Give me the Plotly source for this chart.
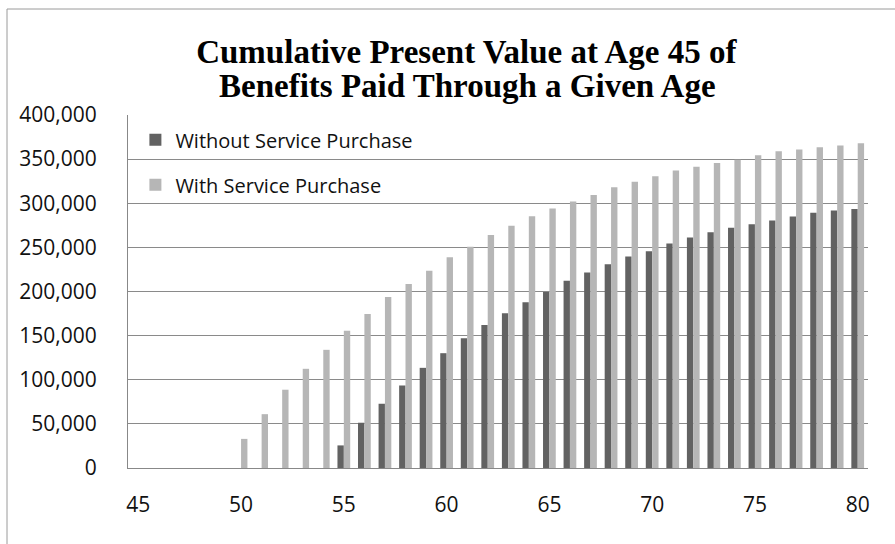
import plotly.graph_objects as go

ages = list(range(45, 81))
without_purchase = [0, 0, 0, 0, 0, 0, 0, 0, 0, 0,
                    25600, 51300, 72800, 93500, 113500, 130100, 147100, 162100, 175300, 187800,
                    199500, 212300, 221500, 231000, 239600, 245700, 254300, 261100, 267200, 272100,
                    276200, 280400, 284900, 289100, 291700, 293600]
with_purchase = [0, 0, 0, 0, 0, 33000, 61000, 88700, 112400, 133900,
                 155400, 174600, 193800, 208500, 223600, 238700, 250800, 264000, 274500, 285400,
                 294100, 302000, 309400, 318100, 324500, 330600, 337000, 341500, 345700, 349400,
                 354300, 358900, 360800, 363400, 365300, 367900]
x_ticks = [45, 50, 55, 60, 65, 70, 75, 80]
y_ticks = [0, 50000, 100000, 150000, 200000, 250000, 300000, 350000, 400000]
title_line1 = "Cumulative Present Value at Age 45 of"
title_line2 = "Benefits Paid Through a Given Age"

fig = go.Figure()
fig.add_trace(go.Bar(x=ages, y=without_purchase, name="Without Service Purchase",
                     marker=dict(color="#626262", line=dict(width=0)), legendgroup="a"))
fig.add_trace(go.Bar(x=ages, y=with_purchase, name="With Service Purchase",
                     marker=dict(color="#b6b6b6", line=dict(width=0)), legendgroup="b"))

title_font = dict(family="Liberation Serif", size=33, color="#000")
fig.update_layout(
    width=895, height=544,
    margin=dict(l=128, r=27, t=115, b=76),
    paper_bgcolor="white", plot_bgcolor="white",
    barmode="group", bargap=0.38, bargroupgap=0,
    font=dict(family="Open Sans", size=21, color="#111"),
    title=dict(text="<b>" + title_line1 + "</b>",
               x=0.521, xanchor="center", y=1 - 51 / 544, yanchor="middle", yref="container",
               font=title_font),
    legend=dict(x=0.01, y=0.985, xanchor="left", yanchor="top", bgcolor="rgba(0,0,0,0)",
                font=dict(family="Open Sans", size=20, color="#111"),
                traceorder="grouped", tracegroupgap=16, itemwidth=30),
    showlegend=True,
)
fig.add_annotation(text="<b>" + title_line2 + "</b>", xref="paper", yref="paper",
                   x=(467 - 128) / 740, y=(468 - 86) / 353, xanchor="center", yanchor="middle",
                   showarrow=False, font=title_font)
fig.update_xaxes(range=[44.5, 80.5], tickmode="array", tickvals=x_ticks,
                 ticktext=[str(v) for v in x_ticks], showgrid=False,
                 showline=True, linecolor="#888", linewidth=1, ticks="",
                 ticklabelstandoff=18, zeroline=False)
fig.update_yaxes(range=[0, 400000], tickmode="array", tickvals=y_ticks,
                 ticktext=[f"{v:,}" for v in y_ticks], showgrid=True,
                 gridcolor="#8a8a8a", gridwidth=1, showline=True, linecolor="#888",
                 linewidth=1, ticks="", ticklabelstandoff=26, zeroline=False)
fig.add_shape(type="rect", xref="paper", yref="paper",
              x0=(7 - 128) / 740, x1=1.2,
              y0=-0.5, y1=(468 - 9) / 353,
              line=dict(color="#9a9a9a", width=1), layer="below")
fig.write_html("out.html")
